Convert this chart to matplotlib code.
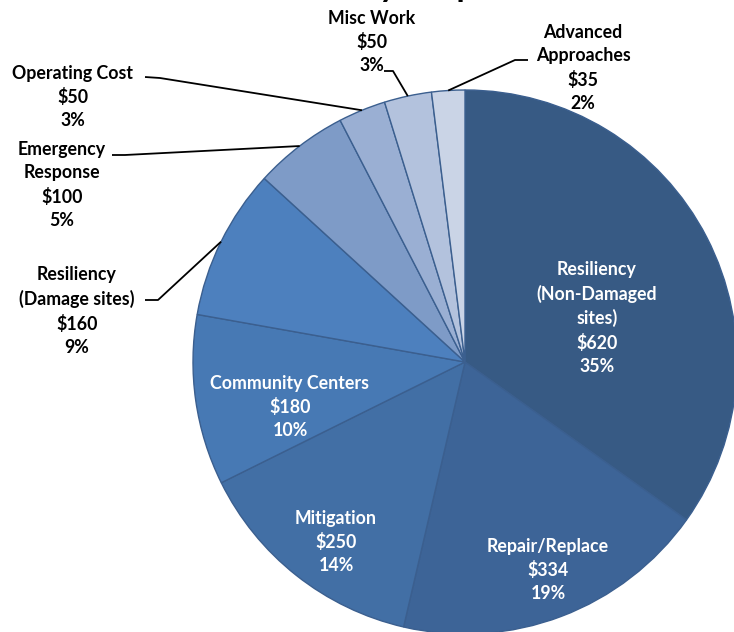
import matplotlib
matplotlib.use("Agg")
import matplotlib.pyplot as plt
import numpy as np

# data ($ values, percent labels)
categories = ["Resiliency\n(Non-Damaged\nsites)", "Repair/Replace", "Mitigation",
              "Community Centers", "Resiliency\n(Damage sites)", "Emergency\nResponse",
              "Operating Cost", "Misc Work", "Advanced\nApproaches"]
amounts = [620, 334, 250, 180, 160, 100, 50, 50, 35]
pct_labels = ["35%", "19%", "14%", "10%", "9%", "5%", "3%", "3%", "2%"]

colors = ['#375A84', '#3D6497', '#426FA5', '#4779B4', '#4D80BE',
          '#7E9BC7', '#9AAFD3', '#B3C2DD', '#CAD4E6']

W, H = 734, 632
CX, CY, R = 465, H - 362, 272

plt.rcParams['font.family'] = ['Lato', 'DejaVu Sans']

fig = plt.figure(figsize=(W / 100, H / 100), dpi=100)
ax = fig.add_axes([0, 0, 1, 1])

wedges, _ = ax.pie(amounts, colors=colors, startangle=90, counterclock=False,
                   center=(CX, CY), radius=R, frame=True,
                   wedgeprops=dict(edgecolor='#3B5F8F', linewidth=1.0))
ax.set_xlim(0, W)
ax.set_ylim(0, H)
ax.set_aspect('equal')
ax.axis('off')

# title, cut off at the top of the picture (only descenders show)
fig.text(397 / W, 1.0 + 3 / H, "Recovery", fontsize=24, fontweight='bold',
         ha='right', va='baseline')
fig.text(420 / W, 1.0 + 3 / H, "Expenditures", fontsize=24, fontweight='bold',
         ha='left', va='baseline')

fs = 12.8
ls = 1.43
# inside labels (pixel positions of the text block centres)
inside_pos = {0: (597, 318), 1: (548, 570), 2: (336, 542), 3: (290, 407)}
for i, (x, y) in inside_pos.items():
    txt = f"{categories[i]}\n${amounts[i]}\n{pct_labels[i]}"
    ax.text(x, H - y, txt, ha='center', va='center', color='white',
            fontsize=fs, fontweight='bold', linespacing=ls)

# outside labels with leader lines: text centre, elbow start, elbow end
outside = {
    4: ((77, 311), (145, 300), (158, 300)),
    5: ((62, 185), (112, 155), (125, 155)),
    6: ((73, 97), (145, 77), (160, 78)),
    7: ((372, 42), (384, 71), (393, 71)),
    8: ((583, 68), (528, 60), (515, 60)),
}
total = sum(amounts)
cum = np.cumsum([0] + amounts)
for i, ((tx, ty), p0, p1) in outside.items():
    txt = f"{categories[i]}\n${amounts[i]}\n{pct_labels[i]}"
    ax.text(tx, H - ty, txt, ha='center', va='center', color='black',
            fontsize=fs, fontweight='bold', linespacing=ls)
    mid = (cum[i] + cum[i + 1]) / 2 / total
    ang = np.deg2rad(90 - mid * 360)
    ex, ey = CX + R * np.cos(ang), CY + R * np.sin(ang)
    ax.plot([p0[0], p1[0], ex], [H - p0[1], H - p1[1], ey], color='black', lw=1.3,
            solid_capstyle='butt')

fig.savefig("out.png", dpi=100)
